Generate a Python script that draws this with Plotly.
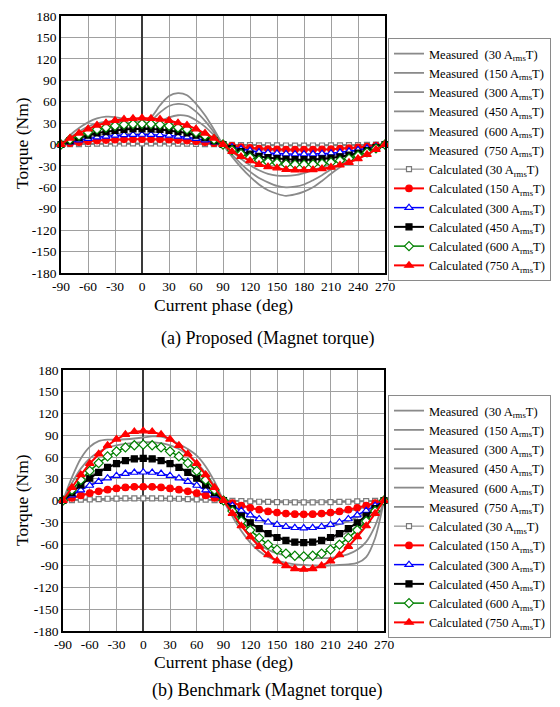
import plotly.graph_objects as go

PHASE = [-90, -80, -70, -60, -50, -40, -30, -20, -10, 0, 10, 20, 30, 40, 50, 60, 70, 80, 90,
         100, 110, 120, 130, 140, 150, 160, 170, 180, 190, 200, 210, 220, 230, 240, 250, 260, 270]
CURRENTS = ["30", "150", "300", "450", "600", "750"]
XTICKS = [-90, -60, -30, 0, 30, 60, 90, 120, 150, 180, 210, 240, 270]
XTICK_LABELS = ["-90", "-60", "-30", "0", "30", "60", "90", "120", "150", "180", "210", "240", "270"]
YTICKS = [-180, -150, -120, -90, -60, -30, 0, 30, 60, 90, 120, 150, 180]
YTICK_LABELS = ["-180", "-150", "-120", "-90", "-60", "-30", "0", "30", "60", "90", "120", "150", "180"]

# (a) Proposed - measured
P_M30 = [0, 0.4, 0.7, 1, 1.2, 1.3, 1.4, 1.5, 1.5, 1.5, 1.5, 1.5, 1.4, 1.3, 1.1, 0.9, 0.6, 0.3, 0, -0.4, -0.7, -0.9, -1.1, -1.3, -1.4, -1.5, -1.5, -1.5, -1.4, -1.4, -1.3, -1.2, -1.0, -0.8, -0.6, -0.3, 0]
P_M150 = [0, 2, 3.5, 5, 6, 6.8, 7.2, 7.5, 7.5, 7.5, 7.8, 8.2, 8.5, 8.5, 8, 6.8, 5, 2.5, 0, -2.5, -4.5, -6, -7, -8, -8.5, -8.5, -8.5, -8, -7.7, -7.2, -6.5, -5.7, -4.8, -3.7, -2.5, -1.2, 0]
P_M300 = [0, 4, 8, 11, 13, 14.5, 15, 15, 14.5, 14.5, 16, 19, 22, 23, 22, 19, 14, 7, 0, -6, -11.5, -16, -20, -22.5, -24, -24.5, -24, -22.5, -21, -19, -16.5, -14, -11, -8, -5.5, -2.5, 0]
P_M450 = [0, 7, 13, 18, 21.5, 23.5, 24, 23.5, 22.5, 22, 25, 32, 38, 41, 40, 34, 25, 13, 0, -10, -20, -29, -36, -41, -43.5, -44, -43, -40, -36, -32, -27, -22, -17, -12.5, -8, -4, 0]
P_M600 = [0, 10, 18, 25, 29.5, 32, 32.5, 31, 29, 28, 33, 45, 54, 57, 55, 46, 33, 17, 0, -14, -27, -38, -47, -53, -58, -60, -59, -56, -50, -43, -35, -28, -21, -15, -10, -5, 0]
P_M750 = [0, 13, 23, 31, 36.5, 39, 38.5, 36, 33, 32, 38, 55, 68, 72, 69, 57, 41, 21, 0, -17, -32, -45, -56, -64, -69, -72, -70, -66, -60, -51, -41, -32, -24, -17, -11, -5, 0]

# (a) Proposed - calculated
P_C30 = [0, 0.4, 0.6, 0.9, 1.1, 1.2, 1.4, 1.4, 1.5, 1.5, 1.5, 1.4, 1.4, 1.2, 1.1, 0.9, 0.6, 0.4, 0, -0.4, -0.7, -0.9, -1.1, -1.3, -1.3, -1.4, -1.5, -1.5, -1.4, -1.4, -1.3, -1.2, -1.0, -0.8, -0.6, -0.3, 0]
P_C150 = [0, 1.8, 3.2, 4.4, 5.5, 6.2, 6.8, 7.2, 7.4, 7.5, 7.4, 7.2, 6.8, 6.2, 5.5, 4.4, 3.2, 1.8, 0, -2.0, -3.5, -4.7, -5.7, -6.3, -6.7, -7.1, -7.3, -7.3, -7.2, -6.9, -6.5, -5.9, -5.1, -4.1, -2.9, -1.4, 0]
P_C300 = [0, 3.4, 6.0, 8.3, 10.2, 11.5, 12.7, 13.4, 13.8, 14, 13.8, 13.4, 12.7, 11.5, 10.2, 8.3, 6.0, 3.4, 0, -3.8, -6.4, -8.7, -10.6, -11.8, -12.5, -13.3, -13.6, -13.6, -13.4, -12.9, -12.1, -10.9, -9.5, -7.6, -5.3, -2.7, 0]
P_C450 = [0, 5.3, 9.5, 13.0, 16.1, 18.0, 19.9, 21.1, 21.7, 22, 21.7, 21.1, 19.9, 18.0, 16.1, 13.0, 9.5, 5.3, 0, -5.9, -10.1, -13.6, -16.7, -18.5, -19.6, -20.9, -21.3, -21.3, -21.1, -20.2, -19.0, -17.2, -15.0, -11.9, -8.4, -4.2, 0]
P_C600 = [0, 7.0, 12.5, 17.1, 21.2, 23.8, 26.2, 27.8, 28.6, 29, 28.6, 27.8, 26.2, 23.8, 21.2, 17.1, 12.5, 7.0, 0, -7.8, -13.3, -18.0, -22.0, -24.4, -25.8, -27.6, -28.1, -28.1, -27.8, -26.7, -25.1, -22.6, -19.7, -15.7, -11.0, -5.5, 0]
P_C750 = [0, 8.9, 15.9, 21.8, 27, 30.3, 33.5, 35.5, 36.4, 37, 36.4, 35.5, 33.5, 30.3, 27, 21.8, 15.9, 8.9, 0, -10, -17, -22.9, -28.1, -31.1, -32.9, -35.2, -35.9, -35.9, -35.5, -34, -32, -28.9, -25.2, -20, -14.1, -7, 0]

# (b) Benchmark - measured
B_M30 = [0, 0.6, 1.2, 1.7, 2.1, 2.5, 2.8, 3, 3.1, 3.1, 3.1, 3, 2.8, 2.5, 2.1, 1.7, 1.2, 0.6, 0, -0.6, -1, -1.4, -1.8, -2.1, -2.3, -2.5, -2.6, -2.6, -2.6, -2.5, -2.3, -2.1, -1.8, -1.4, -1, -0.5, 0]
B_M150 = [0, 4, 7.5, 10.5, 13, 15.3, 17, 18.3, 19, 19.3, 19, 18.3, 17, 15, 12.7, 10, 7, 3.6, 0, -3.8, -7.3, -10.3, -13, -15.2, -17, -18.3, -19, -19.3, -19.2, -18.8, -18, -16.6, -14.6, -12, -8.8, -4.6, 0]
B_M300 = [0, 8, 15.5, 22, 27, 31, 34, 36.5, 38, 38.5, 38, 36.5, 34, 30.5, 26, 21, 14.5, 7.5, 0, -7.5, -14.5, -20.5, -26, -30.5, -34, -36.5, -38, -38.5, -38.5, -37.5, -35.5, -32.5, -28.5, -23, -17, -9, 0]
B_M450 = [0, 13, 24, 33, 40.5, 46, 50.5, 54, 56, 57, 56.5, 55, 51, 46, 39, 31, 22, 11, 0, -11, -22, -31, -39, -45.5, -50.5, -54, -56.5, -57.5, -57.5, -56, -53.5, -49, -43, -36, -27, -15, 0]
B_M600 = [0, 24, 44, 58, 67, 73, 76, 78, 79.5, 80.5, 80.5, 79, 76, 71, 63, 52, 38, 20, 0, -18, -35, -49, -60, -68, -73, -76, -78, -79, -79.5, -79.5, -79, -77, -74, -68, -57, -35, 0]
B_M750 = [0, 32, 58, 74, 82, 84, 84, 84.5, 85.5, 87, 88.5, 88, 84, 78, 71, 62, 47, 26, 0, -22, -42, -58, -70, -78, -83, -86, -88, -89, -89.5, -90, -89.5, -89, -88, -86, -78, -52, 0]

# (b) Benchmark - calculated
B_C30 = [0, 0.6, 1.1, 1.6, 2, 2.4, 2.6, 2.9, 3, 3, 3, 2.9, 2.6, 2.4, 2, 1.6, 1.1, 0.6, 0, -0.5, -0.9, -1.3, -1.7, -2, -2.2, -2.4, -2.5, -2.5, -2.5, -2.4, -2.2, -2, -1.7, -1.3, -0.9, -0.5, 0]
B_C150 = [0, 3.6, 7, 10.1, 12.7, 15, 16.7, 18.1, 18.8, 19, 18.8, 18.1, 16.7, 15, 12.7, 10.1, 7, 3.6, 0, -3.6, -7, -10.1, -12.7, -15, -16.7, -18.1, -18.8, -19, -18.8, -18.1, -16.7, -15, -12.7, -10.1, -7, -3.6, 0]
B_C300 = [0, 7.4, 14.4, 20.7, 26.1, 30.8, 34.3, 37.1, 38.6, 39, 38.6, 37.1, 34.3, 30.8, 26.1, 20.7, 14.4, 7.4, 0, -7.2, -14.1, -20.1, -25.5, -30, -33.4, -36.1, -37.6, -38, -37.6, -36.1, -33.4, -30, -25.5, -20.1, -14.1, -7.2, 0]
B_C450 = [0, 11, 21.5, 30.7, 38.9, 45.8, 51, 55.1, 57.4, 58, 57.4, 55.1, 51, 45.8, 38.9, 30.7, 21.5, 11, 0, -11, -21.5, -30.7, -38.9, -45.8, -51, -55.1, -57.4, -58, -57.4, -55.1, -51, -45.8, -38.9, -30.7, -21.5, -11, 0]
B_C600 = [0, 14.6, 28.5, 40.8, 51.6, 60.8, 67.8, 73.2, 76.2, 77, 76.2, 73.2, 67.8, 60.8, 51.6, 40.8, 28.5, 14.6, 0, -14.6, -28.5, -40.8, -51.6, -60.8, -67.8, -73.2, -76.2, -77, -76.2, -73.2, -67.8, -60.8, -51.6, -40.8, -28.5, -14.6, 0]
B_C750 = [0, 18, 35.5, 51, 64, 76, 84.5, 91, 95, 96, 95, 91, 84.5, 76, 64, 51, 35.5, 18, 0, -18, -35, -50, -63.5, -75, -83.5, -90, -94, -95, -94, -90, -83.5, -75, -63.5, -50, -35, -18, 0]

SERIF = "Liberation Serif"
GRAY = "#8a8a8a"
W, H = 560, 707
OFF = 8  # page body margin


def px(x):
    return (x - OFF) / W


def py(y):
    return 1 - (y - OFF) / H


CALC_STYLE = [
    dict(color="#7a7a7a", lw=1, symbol="square", size=5, fill="white"),
    dict(color="#ff0000", lw=2, symbol="circle", size=6.5, fill="#ff0000"),
    dict(color="#0000ff", lw=1.5, symbol="triangle-up", size=7, fill="white"),
    dict(color="#000000", lw=2, symbol="square", size=6, fill="#000000"),
    dict(color="#008000", lw=1.5, symbol="diamond", size=7, fill="white"),
    dict(color="#ff0000", lw=2, symbol="triangle-up", size=7.5, fill="#ff0000"),
]

fig = go.Figure()

panels = [
    ("x", "y", "legend", [P_M30, P_M150, P_M300, P_M450, P_M600, P_M750],
     [P_C30, P_C150, P_C300, P_C450, P_C600, P_C750]),
    ("x2", "y2", "legend2", [B_M30, B_M150, B_M300, B_M450, B_M600, B_M750],
     [B_C30, B_C150, B_C300, B_C450, B_C600, B_C750]),
]

for xa, ya, lg, meas, calc in panels:
    for cur, vals in zip(CURRENTS, meas):
        fig.add_trace(go.Scatter(
            x=PHASE, y=vals, xaxis=xa, yaxis=ya, legend=lg, mode="lines",
            line=dict(color=GRAY, width=1.8, shape="spline", smoothing=0.8),
            name="Measured\u00a0 (" + cur + " A<sub>rms</sub>T)", cliponaxis=False))
    for cur, vals, st in zip(CURRENTS, calc, CALC_STYLE):
        fig.add_trace(go.Scatter(
            x=PHASE, y=vals, xaxis=xa, yaxis=ya, legend=lg, mode="lines+markers",
            line=dict(color=st["color"], width=st["lw"]),
            marker=dict(symbol=st["symbol"], size=st["size"], color=st["fill"],
                        line=dict(color=st["color"], width=1.2)),
            name="Calculated (" + cur + " A<sub>rms</sub>T)", cliponaxis=False))

xcommon = dict(range=[-90, 270], tickvals=XTICKS, ticktext=XTICK_LABELS, showgrid=True,
               gridcolor="#a0a0a0", gridwidth=1, showline=True, linecolor="black",
               linewidth=1.5, mirror=True, ticks="",
               tickfont=dict(family=SERIF, size=13.5, color="black"),
               zeroline=True, zerolinecolor="#3a3a3a", zerolinewidth=1.5)
ycommon = dict(range=[-180, 180], tickvals=YTICKS, ticktext=YTICK_LABELS, showgrid=True,
               gridcolor="#a0a0a0", gridwidth=1, showline=True, linecolor="black",
               linewidth=1.5, mirror=True, ticks="",
               tickfont=dict(family=SERIF, size=13.5, color="black"),
               zeroline=False)

legcommon = dict(xanchor="left", yanchor="top", bordercolor="#8a8a8a", borderwidth=1,
                 bgcolor="white", font=dict(family=SERIF, size=12.5, color="black"),
                 itemwidth=30, tracegroupgap=0)


def label(text, x, y, size, angle=0):
    return dict(text=text, x=px(x), y=py(y), xref="paper", yref="paper",
                xanchor="center", yanchor="middle", showarrow=False, textangle=angle,
                font=dict(family=SERIF, size=size, color="black"))


fig.update_layout(
    width=W, height=H, margin=dict(l=0, r=0, t=0, b=0, autoexpand=False),
    paper_bgcolor="white", plot_bgcolor="white",
    showlegend=True,
    xaxis=dict(domain=[px(61), px(385)], anchor="y", **xcommon),
    yaxis=dict(domain=[py(273), py(16)], anchor="x", **ycommon),
    xaxis2=dict(domain=[px(63), px(384)], anchor="y2", **xcommon),
    yaxis2=dict(domain=[py(631), py(370)], anchor="x2", **ycommon),
    legend=dict(x=px(388), y=py(38), **legcommon),
    legend2=dict(x=px(388), y=py(395), **legcommon),
    font=dict(family=SERIF, color="black"),
    annotations=[
        label("Current phase (deg)", 223, 305, 17.5),
        label("Torque (Nm)", 22, 143, 17.5, -90),
        label("(a) Proposed (Magnet torque)", 267, 338, 18),
        label("Current phase (deg)", 223, 662, 17.5),
        label("Torque (Nm)", 22, 500, 17.5, -90),
        label("(b) Benchmark (Magnet torque)", 267, 690, 18),
    ],
)

fig.write_html("out.html")
